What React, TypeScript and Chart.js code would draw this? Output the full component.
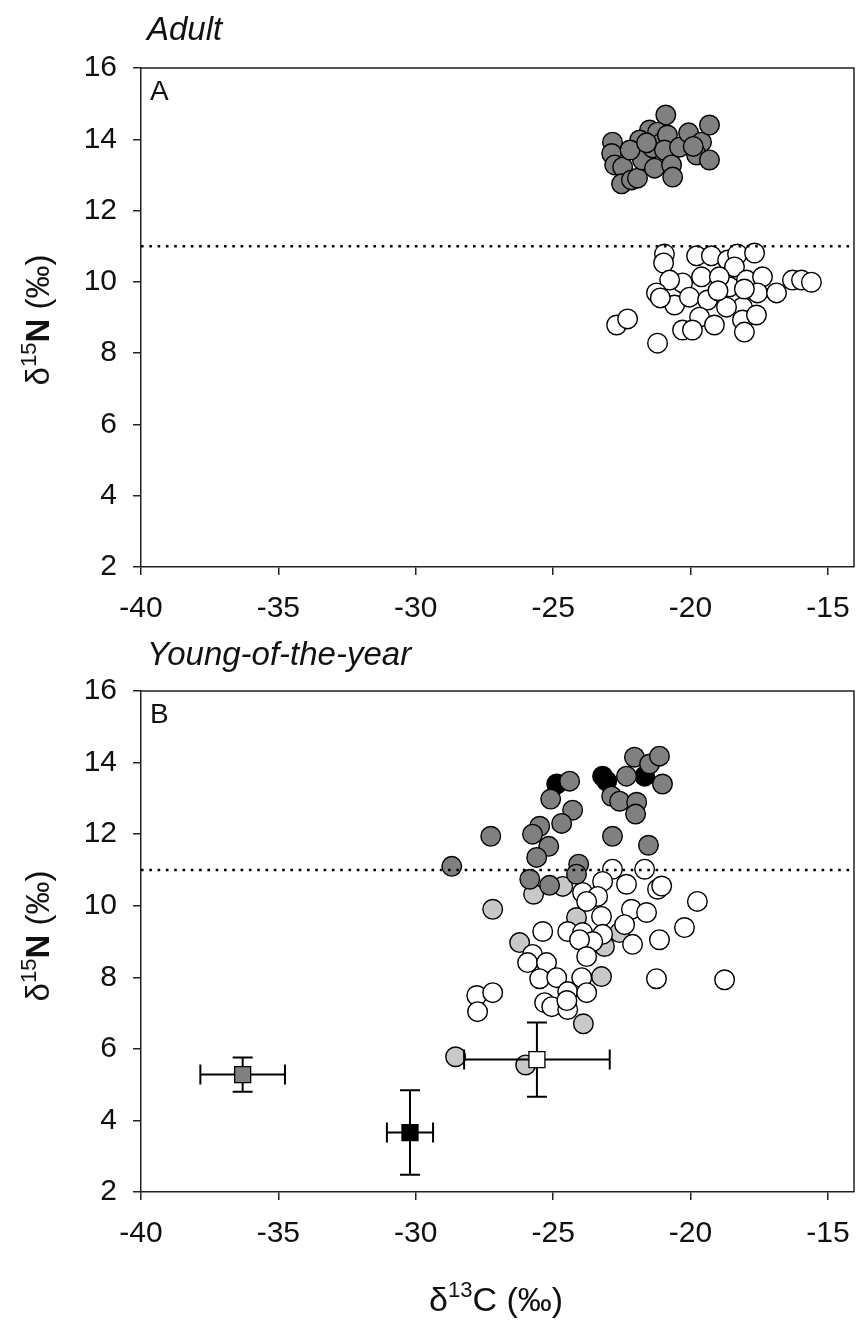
import React, { useEffect, useRef } from "react";
import { Chart, registerables } from "chart.js";

Chart.register(...registerables);

type Pt = [number, number];

// δ13C axis ticks and δ15N axis limits
const xTickValues = [-40, -35, -30, -25, -20, -15];
const xMin = -40;
const xMax = -14.05;
const yMin = 2;
const yMax = 16;
const nThreshold = 11;

// Adults: high and low δ15N groups
const adultHighN: Pt[] = [
  [-20.9, 14.68], [-22.84, 13.92], [-22.87, 13.6], [-22.76, 13.28], [-22.47, 13.22],
  [-22.51, 12.75], [-22.15, 12.86], [-21.93, 12.91], [-21.75, 13.42], [-21.49, 14.26],
  [-21.2, 14.2], [-21.38, 13.76], [-21.05, 13.9], [-20.84, 14.12], [-20.95, 13.7],
  [-21.31, 13.19], [-20.69, 13.28], [-20.65, 12.94], [-20.4, 13.78], [-20.07, 14.18],
  [-19.6, 13.92], [-19.78, 13.56], [-19.31, 14.4], [-19.31, 13.42], [-21.85, 13.98],
  [-22.2, 13.7], [-21.6, 13.9], [-19.9, 13.8],
];

const adultLowN: Pt[] = [
  [-20.95, 10.78], [-20.98, 10.53], [-19.78, 10.73], [-19.24, 10.73], [-18.65, 10.61],
  [-18.29, 10.78], [-17.67, 10.81], [-18.4, 10.42], [-19.6, 10.14], [-20.29, 9.97],
  [-20.76, 10.05], [-21.24, 9.69], [-20.58, 9.35], [-20.04, 9.57], [-19.38, 9.49],
  [-18.58, 9.86], [-18.95, 10.14], [-17.96, 10.05], [-17.38, 10.14], [-17.56, 9.69],
  [-16.87, 9.69], [-18.11, 9.29], [-18.69, 9.29], [-19.67, 9.01], [-19.13, 8.79],
  [-20.29, 8.65], [-19.93, 8.65], [-18.11, 8.93], [-18.04, 8.59], [-17.6, 9.07],
  [-22.69, 8.79], [-22.29, 8.96], [-21.2, 8.28], [-16.29, 10.05], [-15.96, 10.05],
  [-15.6, 9.99], [-18.04, 9.8], [-21.1, 9.55], [-19.0, 9.75],
];

// Young-of-the-year groups
const yoyDark: Pt[] = [
  [-28.69, 11.1], [-27.27, 11.94], [-24.4, 13.48], [-25.09, 12.98], [-24.29, 12.67],
  [-24.69, 12.3], [-25.49, 12.22], [-25.75, 12.0], [-25.16, 11.66], [-25.6, 11.35],
  [-25.85, 10.74], [-25.13, 10.57], [-24.07, 11.16], [-24.15, 10.88], [-22.87, 13.06],
  [-22.58, 12.92], [-22.33, 13.62], [-22.04, 14.15], [-21.49, 13.96], [-21.13, 14.18],
  [-21.02, 13.4], [-21.96, 12.89], [-22.0, 12.56], [-22.84, 11.94], [-21.53, 11.69],
];

const yoyBlack: Pt[] = [
  [-24.87, 13.4], [-23.2, 13.62], [-23.05, 13.48], [-21.67, 13.62],
];

const yoyLight: Pt[] = [
  [-25.71, 10.32], [-24.65, 10.54], [-27.2, 9.9], [-24.15, 9.67], [-26.22, 8.97],
  [-23.13, 8.86], [-22.58, 9.25], [-23.24, 8.02], [-28.55, 5.78], [-26.0, 5.55],
  [-23.9, 6.7],
];

const yoyWhite: Pt[] = [
  [-22.84, 11.02], [-21.67, 11.02], [-23.2, 10.68], [-22.33, 10.6], [-21.2, 10.46],
  [-21.05, 10.55], [-23.93, 10.37], [-23.38, 10.26], [-23.78, 10.12], [-19.75, 10.12],
  [-22.15, 9.9], [-21.6, 9.81], [-23.24, 9.7], [-22.4, 9.47], [-20.22, 9.39],
  [-25.38, 9.28], [-24.47, 9.28], [-23.93, 9.25], [-23.2, 9.2], [-23.56, 9.0],
  [-24.04, 9.05], [-22.11, 8.92], [-21.13, 9.05], [-23.78, 8.58], [-25.75, 8.64],
  [-25.93, 8.41], [-25.24, 8.41], [-25.49, 7.96], [-24.87, 7.99], [-23.96, 7.99],
  [-21.24, 7.96], [-18.76, 7.93], [-27.78, 7.49], [-27.2, 7.57], [-27.75, 7.04],
  [-24.47, 7.6], [-23.78, 7.57], [-25.31, 7.29], [-25.05, 7.18], [-24.47, 7.1],
  [-24.5, 7.35],
];

// Food sources: mean ± SD
const sourceMeanC = [-36.3, -30.21, -25.59];
const sourceSdC = [1.54, 0.84, 2.65];
const sourceMeanN = [5.28, 3.66, 5.7];
const sourceSdN = [0.48, 1.18, 1.04];
const sourceFill = ["#808080", "#000000", "#ffffff"];

const FONT = "'Liberation Sans', Arial, sans-serif";

const circle = (data: Pt[], fill: string, order: number) => ({
  type: "scatter" as const,
  data: data.map(([x, y]) => ({ x, y })),
  backgroundColor: fill,
  borderColor: "#000",
  borderWidth: 1.4,
  pointRadius: 9.8,
  pointHoverRadius: 9.8,
  order,
});

const thresholdLine = () => ({
  type: "line" as const,
  data: [
    { x: xMin, y: nThreshold },
    { x: xMax, y: nThreshold },
  ],
  borderColor: "#000",
  borderWidth: 2.6,
  borderDash: [2.6, 5.7],
  pointRadius: 0,
  fill: false,
  order: -1,
});

type Part = { t: string; size: number; weight?: string; dy?: number };

function drawRich(
  ctx: CanvasRenderingContext2D,
  parts: Part[],
  cx: number,
  cy: number,
  rotated: boolean,
  base: number
) {
  ctx.save();
  ctx.fillStyle = "#111";
  ctx.textBaseline = "alphabetic";
  ctx.textAlign = "left";
  let total = 0;
  const widths = parts.map((p) => {
    ctx.font = `${p.weight || "normal"} ${p.size}px ${FONT}`;
    const w = ctx.measureText(p.t).width;
    total += w;
    return w;
  });
  ctx.translate(cx, cy);
  if (rotated) ctx.rotate(-Math.PI / 2);
  let x = -total / 2;
  parts.forEach((p, i) => {
    ctx.font = `${p.weight || "normal"} ${p.size}px ${FONT}`;
    ctx.fillText(p.t, x, base * 0.36 + (p.dy || 0));
    x += widths[i];
  });
  ctx.restore();
}

type PanelCfg = {
  title: string;
  letter: string;
  titleBaseline: number;
  letterBaseline: number;
  yTitleY: number;
  padTop: number;
  xAxisHeight: number;
  withXTitle: boolean;
  withSources: boolean;
};

function makePanelPlugin(cfg: PanelCfg) {
  return {
    id: "panelDecor",
    beforeDatasetDraw(chart: any, args: any) {
      if (!cfg.withSources || args.meta.order !== 0) return;
      const { ctx, scales } = chart;
      const xs = scales.x;
      const ys = scales.y;
      ctx.save();
      ctx.strokeStyle = "#000";
      ctx.lineWidth = 2;
      const cap = 10;
      sourceMeanC.forEach((c, i) => {
        const px = xs.getPixelForValue(c);
        const py = ys.getPixelForValue(sourceMeanN[i]);
        const x0 = xs.getPixelForValue(c - sourceSdC[i]);
        const x1 = xs.getPixelForValue(c + sourceSdC[i]);
        const y0 = ys.getPixelForValue(sourceMeanN[i] + sourceSdN[i]);
        const y1 = ys.getPixelForValue(sourceMeanN[i] - sourceSdN[i]);
        ctx.beginPath();
        ctx.moveTo(x0, py);
        ctx.lineTo(x1, py);
        ctx.moveTo(x0, py - cap);
        ctx.lineTo(x0, py + cap);
        ctx.moveTo(x1, py - cap);
        ctx.lineTo(x1, py + cap);
        ctx.moveTo(px, y0);
        ctx.lineTo(px, y1);
        ctx.moveTo(px - cap, y0);
        ctx.lineTo(px + cap, y0);
        ctx.moveTo(px - cap, y1);
        ctx.lineTo(px + cap, y1);
        ctx.stroke();
      });
      ctx.restore();
    },
    afterDraw(chart: any) {
      const { ctx, chartArea } = chart;
      const { left, right, top, bottom } = chartArea;
      ctx.save();
      // closing frame on top and right
      ctx.strokeStyle = "#222";
      ctx.lineWidth = 1.5;
      ctx.beginPath();
      ctx.moveTo(left, top);
      ctx.lineTo(right, top);
      ctx.lineTo(right, bottom);
      ctx.stroke();

      ctx.fillStyle = "#111";
      ctx.textAlign = "left";
      ctx.textBaseline = "alphabetic";
      ctx.font = `italic 33px ${FONT}`;
      ctx.fillText(cfg.title, left + 6, cfg.titleBaseline);
      ctx.font = `28px ${FONT}`;
      ctx.fillText(cfg.letter, left + 9, cfg.letterBaseline);
      ctx.restore();

      drawRich(
        ctx,
        [
          { t: "δ", size: 33 },
          { t: "15", size: 22, dy: -13 },
          { t: "N", size: 33, weight: "bold" },
          { t: " (‰)", size: 33 },
        ],
        37,
        cfg.yTitleY,
        true,
        33
      );

      if (cfg.withXTitle) {
        drawRich(
          ctx,
          [
            { t: "δ", size: 34 },
            { t: "13", size: 22, dy: -14 },
            { t: "C (‰)", size: 34 },
          ],
          496,
          659,
          false,
          34
        );
      }
    },
  };
}

function panelOptions(cfg: PanelCfg) {
  const axisColor = "#222";
  return {
    animation: false as const,
    responsive: false,
    events: [] as any[],
    layout: {
      autoPadding: false,
      padding: { left: 0, right: 3, top: cfg.padTop, bottom: 0 },
    },
    plugins: { legend: { display: false }, tooltip: { enabled: false }, title: { display: false } },
    scales: {
      x: {
        type: "linear" as const,
        min: xMin,
        max: xMax,
        afterBuildTicks: (scale: any) => {
          scale.ticks = xTickValues.map((v) => ({ value: v }));
        },
        afterFit: (scale: any) => {
          scale.height = cfg.xAxisHeight;
          scale.paddingLeft = 0;
          scale.paddingRight = 0;
        },
        grid: {
          drawOnChartArea: false,
          drawTicks: true,
          tickLength: 8,
          color: axisColor,
          lineWidth: 1.5,
        },
        border: { display: true, color: axisColor, width: 1.5 },
        ticks: {
          autoSkip: false,
          maxRotation: 0,
          padding: 16,
          color: "#111",
          font: { family: FONT, size: 30 },
        },
      },
      y: {
        type: "linear" as const,
        min: yMin,
        max: yMax,
        ticks: {
          stepSize: 2,
          padding: 16,
          color: "#111",
          font: { family: FONT, size: 30 },
        },
        afterFit: (scale: any) => {
          scale.width = 141;
          scale.paddingTop = 0;
          scale.paddingBottom = 0;
        },
        grid: {
          drawOnChartArea: false,
          drawTicks: true,
          tickLength: 8,
          color: axisColor,
          lineWidth: 1.5,
        },
        border: { display: true, color: axisColor, width: 1.5 },
      },
    },
  };
}

function Panel({
  cfg,
  datasets,
  height,
}: {
  cfg: PanelCfg;
  datasets: any[];
  height: number;
}) {
  const ref = useRef<HTMLCanvasElement | null>(null);
  useEffect(() => {
    if (!ref.current) return;
    const chart = new Chart(ref.current, {
      type: "scatter",
      data: { datasets },
      options: panelOptions(cfg) as any,
      plugins: [makePanelPlugin(cfg)],
    });
    return () => chart.destroy();
  }, []);
  return (
    <canvas
      ref={ref}
      width={857}
      height={height}
      style={{ display: "block", width: 857, height }}
    />
  );
}

const adultCfg: PanelCfg = {
  title: "Adult",
  letter: "A",
  titleBaseline: 40,
  letterBaseline: 100,
  yTitleY: 320,
  padTop: 68,
  xAxisHeight: 73,
  withXTitle: false,
  withSources: false,
};

const yoyCfg: PanelCfg = {
  title: "Young-of-the-year",
  letter: "B",
  titleBaseline: 25,
  letterBaseline: 83,
  yTitleY: 296,
  padTop: 51,
  xAxisHeight: 128,
  withXTitle: true,
  withSources: true,
};

export default function App() {
  const adultSets = [
    thresholdLine(),
    circle(adultLowN, "#ffffff", 3),
    circle(adultHighN, "#808080", 1),
  ];
  const yoySets = [
    thresholdLine(),
    circle(yoyLight, "#c8c8c8", 4),
    circle(yoyWhite, "#ffffff", 3),
    circle(yoyBlack, "#000000", 2),
    circle(yoyDark, "#808080", 1),
    {
      type: "scatter" as const,
      data: sourceMeanC.map((c, i) => ({ x: c, y: sourceMeanN[i] })),
      backgroundColor: sourceFill,
      borderColor: "#000",
      borderWidth: 1.3,
      pointStyle: "rect",
      pointRadius: 11.3,
      pointHoverRadius: 11.3,
      order: 0,
    },
  ];
  return (
    <div
      style={{
        position: "absolute",
        left: 0,
        top: 0,
        width: 857,
        height: 1320,
        background: "#fff",
      }}
    >
      <Panel cfg={adultCfg} datasets={adultSets} height={640} />
      <Panel cfg={yoyCfg} datasets={yoySets} height={680} />
    </div>
  );
}
